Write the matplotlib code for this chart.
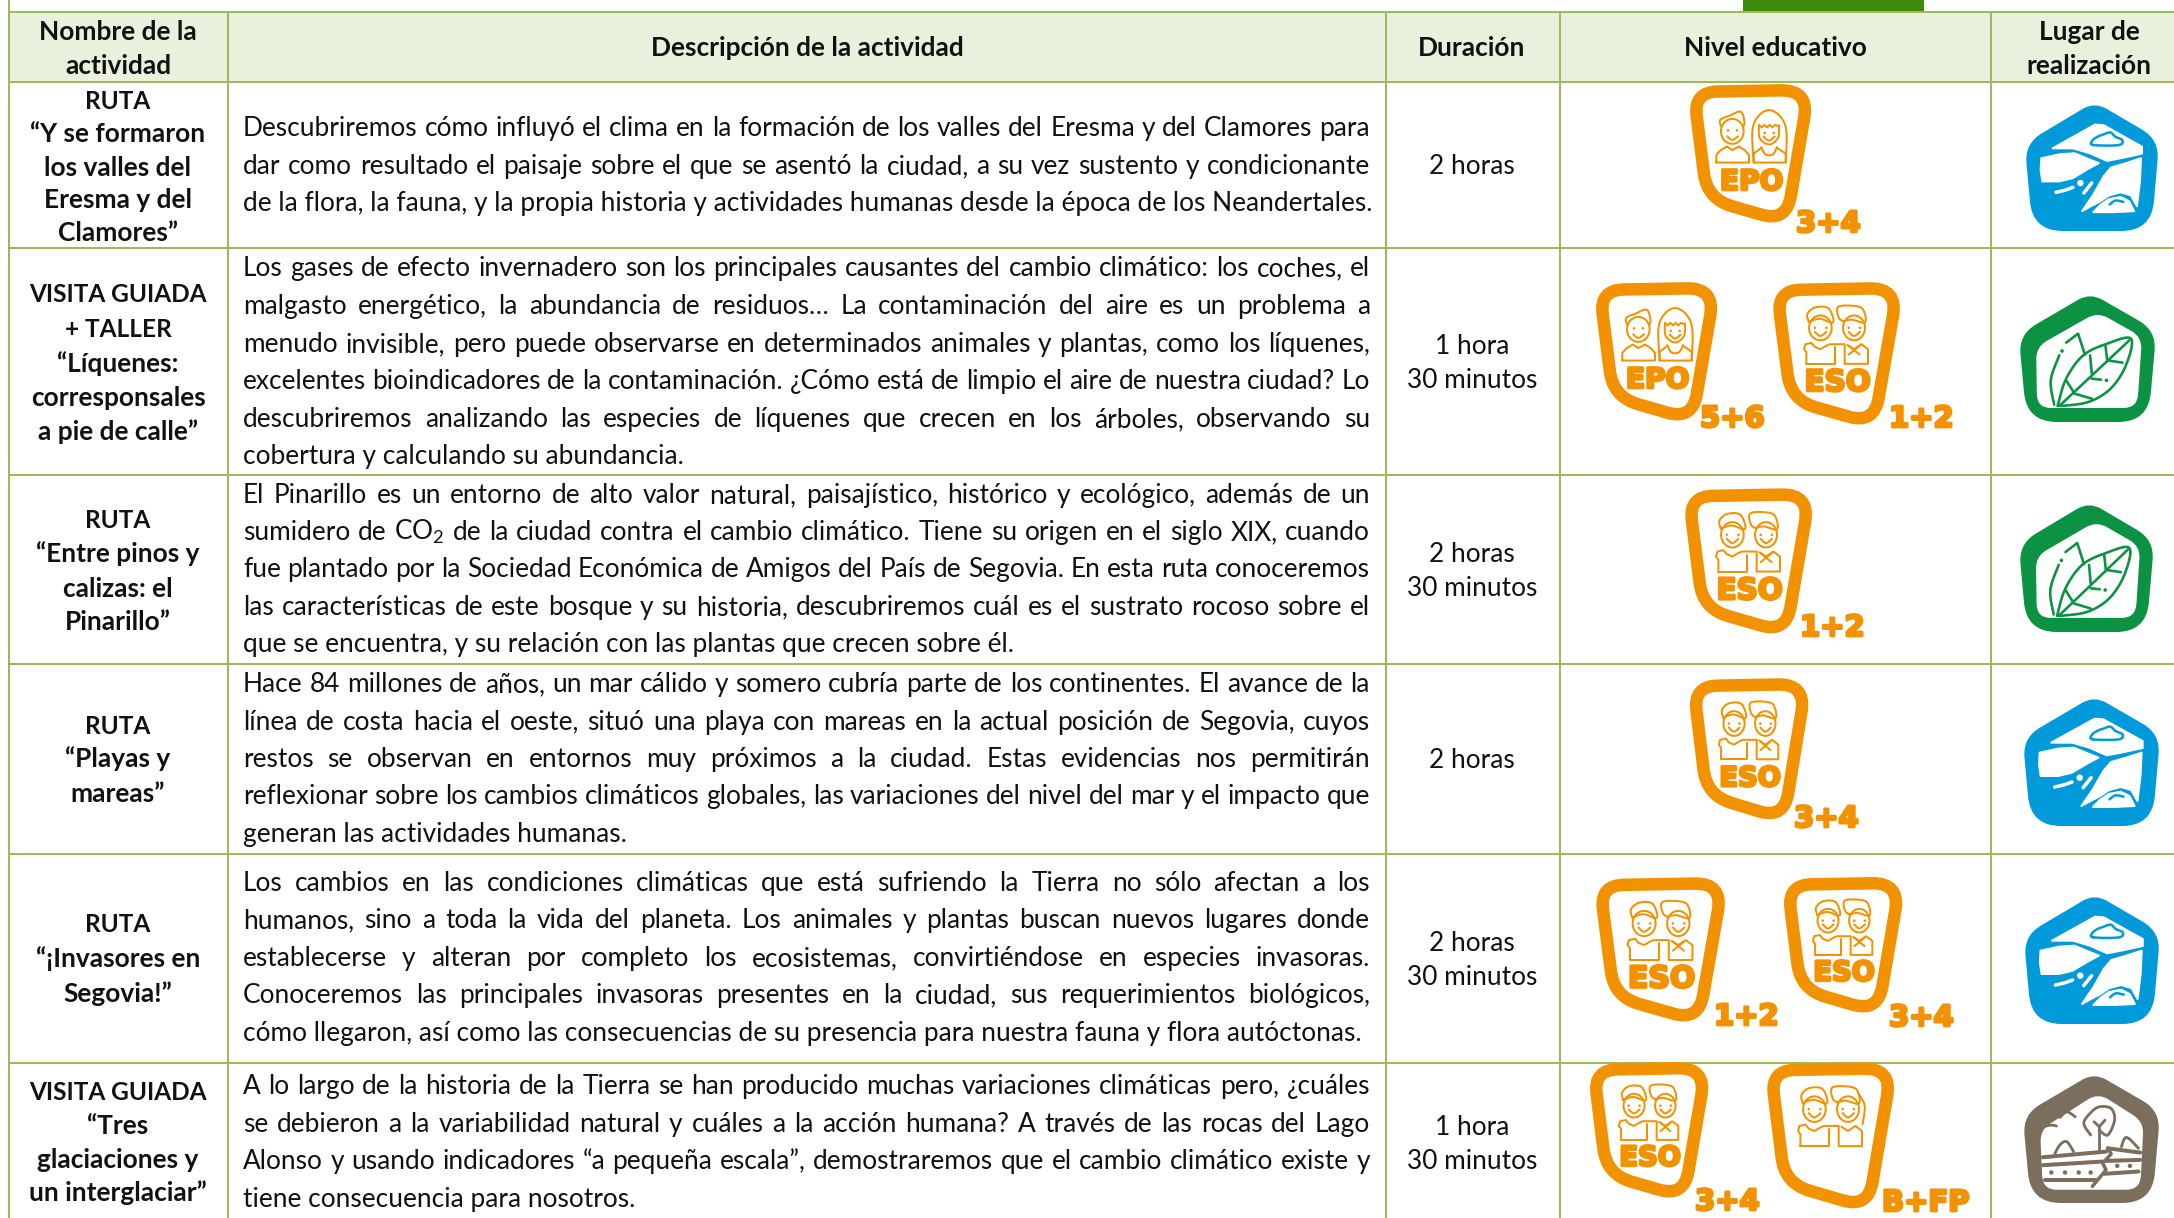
import numpy as np
import matplotlib
matplotlib.use("Agg")
import matplotlib.pyplot as plt
from matplotlib.path import Path
from matplotlib.patches import PathPatch, Rectangle, Ellipse, Polygon
import matplotlib.patheffects as pe

plt.rcParams['font.family'] = ['Lato', 'DejaVu Sans']
plt.rcParams['mathtext.fontset'] = 'custom'
plt.rcParams['mathtext.rm'] = 'Lato'

# ------------------------------------------------------------------ content
headers = ["Nombre de la\nactividad", "Descripción de la actividad", "Duración",
           "Nivel educativo", "Lugar de\nrealización"]
names = [
    ["RUTA", "“Y se formaron", "los valles del", "Eresma y del", "Clamores”"],
    ["VISITA GUIADA", "+ TALLER", "“Líquenes:", "corresponsales", "a pie de calle”"],
    ["RUTA", "“Entre pinos y", "calizas: el", "Pinarillo”"],
    ["RUTA", "“Playas y", "mareas”"],
    ["RUTA", "“¡Invasores en", "Segovia!”"],
    ["VISITA GUIADA", "“Tres", "glaciaciones y", "un interglaciar”"],
]
descriptions = [
    ["Descubriremos cómo influyó el clima en la formación de los valles del Eresma y del Clamores para",
     "dar como resultado el paisaje sobre el que se asentó la ciudad, a su vez sustento y condicionante",
     "de la flora, la fauna, y la propia historia y actividades humanas desde la época de los Neandertales."],
    ["Los gases de efecto invernadero son los principales causantes del cambio climático: los coches, el",
     "malgasto energético, la abundancia de residuos… La contaminación del aire es un problema a",
     "menudo invisible, pero puede observarse en determinados animales y plantas, como los líquenes,",
     "excelentes bioindicadores de la contaminación. ¿Cómo está de limpio el aire de nuestra ciudad? Lo",
     "descubriremos analizando las especies de líquenes que crecen en los árboles, observando su",
     "cobertura y calculando su abundancia."],
    ["El Pinarillo es un entorno de alto valor natural, paisajístico, histórico y ecológico, además de un",
     "sumidero de CO$_{2}$ de la ciudad contra el cambio climático. Tiene su origen en el siglo XIX, cuando",
     "fue plantado por la Sociedad Económica de Amigos del País de Segovia. En esta ruta conoceremos",
     "las características de este bosque y su historia, descubriremos cuál es el sustrato rocoso sobre el",
     "que se encuentra, y su relación con las plantas que crecen sobre él."],
    ["Hace 84 millones de años, un mar cálido y somero cubría parte de los continentes. El avance de la",
     "línea de costa hacia el oeste, situó una playa con mareas en la actual posición de Segovia, cuyos",
     "restos se observan en entornos muy próximos a la ciudad. Estas evidencias nos permitirán",
     "reflexionar sobre los cambios climáticos globales, las variaciones del nivel del mar y el impacto que",
     "generan las actividades humanas."],
    ["Los cambios en las condiciones climáticas que está sufriendo la Tierra no sólo afectan a los",
     "humanos, sino a toda la vida del planeta. Los animales y plantas buscan nuevos lugares donde",
     "establecerse y alteran por completo los ecosistemas, convirtiéndose en especies invasoras.",
     "Conoceremos las principales invasoras presentes en la ciudad, sus requerimientos biológicos,",
     "cómo llegaron, así como las consecuencias de su presencia para nuestra fauna y flora autóctonas."],
    ["A lo largo de la historia de la Tierra se han producido muchas variaciones climáticas pero, ¿cuáles",
     "se debieron a la variabilidad natural y cuáles a la acción humana? A través de las rocas del Lago",
     "Alonso y usando indicadores “a pequeña escala”, demostraremos que el cambio climático existe y",
     "tiene consecuencia para nosotros."],
]
durations = [["2 horas"], ["1 hora", "30 minutos"], ["2 horas", "30 minutos"],
             ["2 horas"], ["2 horas", "30 minutos"], ["1 hora", "30 minutos"]]
levels = [[("EPO", "3+4")], [("EPO", "5+6"), ("ESO", "1+2")], [("ESO", "1+2")],
          [("ESO", "3+4")], [("ESO", "1+2"), ("ESO", "3+4")], [("ESO", "3+4"), ("", "B+FP")]]
places = ["rio", "bosque", "bosque", "rio", "rio", "roca"]

# ------------------------------------------------------------------ layout (pixels)
W, H = 2174, 1218
col_x = [9, 228, 1386, 1560, 1991]
row_y = [12, 82, 248, 475, 664, 854, 1063]
name_y = [[100, 133, 167, 199, 232], [293, 328, 363, 397, 431], [519, 553, 588, 621],
          [725, 758, 793], [923, 958, 993], [1091, 1125, 1159, 1192]]
desc_y = [[127, 165, 202], [267, 305, 343, 380, 418, 455], [494, 531, 568, 606, 643],
          [683, 721, 758, 795, 833], [882, 919, 957, 994, 1032], [1085, 1123, 1160, 1198]]
dur_y = [[165], [345, 379], [553, 587], [759], [942, 976], [1126, 1160]]
badge_boxes = [
    [(1690, 85, 122, 139)],
    [(1596, 283, 122, 139), (1773, 283, 128, 143)],
    [(1685, 489, 128, 146)],
    [(1690, 679, 119, 142)],
    [(1596, 878, 130, 145), (1784, 878, 119, 136)],
    [(1590, 1063, 119, 136), (1767, 1063, 128, 147)],
]
label_xy = [
    [(1796, 233)],
    [(1700, 428), (1889, 428)],
    [(1800, 637)],
    [(1794, 828)],
    [(1714, 1026), (1889, 1027)],
    [(1695, 1211), (1882, 1212)],
]
place_boxes = [(2026, 106, 132, 125), (2020, 297, 135, 125), (2020, 506, 133, 126),
               (2024, 700, 135, 126), (2025, 898, 134, 126), (2024, 1077, 135, 126)]

LINE = "#9bbb59"; HEAD = "#e9f0dc"; TOP = "#3d8b0f"; ORANGE = "#f39200"
BLUE = "#009ada"; GREEN = "#0b9242"; BROWN = "#7b6e5c"; INK = "#111111"
PX = 0.72
FS_BODY = 26.2 * PX
FS_BOLD = 26.2 * PX
FS_CAPS = 24.4 * PX
BASE = 9

fig = plt.figure(figsize=(W / 100, H / 100), dpi=100)
ax = fig.add_axes([0, 0, 1, 1])
ax.set_xlim(0, W); ax.set_ylim(H, 0); ax.axis("off")
fig.canvas.draw()
rend = fig.canvas.get_renderer()


# ------------------------------------------------------------------ helpers
def rounded(pts, r):
    pts = [np.array(p, float) for p in pts]
    n = len(pts); verts = []; codes = []
    for i in range(n):
        p, a, b = pts[i], pts[i - 1], pts[(i + 1) % n]
        rad = r[i] if np.iterable(r) else r
        d1 = (a - p) / np.linalg.norm(a - p); d2 = (b - p) / np.linalg.norm(b - p)
        s, e = p + d1 * rad, p + d2 * rad
        verts += [s, p, e]
        codes += [Path.MOVETO if i == 0 else Path.LINETO, Path.CURVE3, Path.CURVE3]
    verts.append(verts[0]); codes.append(Path.CLOSEPOLY)
    return Path(verts, codes)


def smooth(pts, closed=False, k=8):
    P = np.array(pts, float)
    if closed:
        P = np.vstack([P[-1], P, P[0], P[1]])
    else:
        P = np.vstack([P[0], P, P[-1]])
    out = []
    for i in range(1, len(P) - 2):
        for t in np.linspace(0, 1, k, endpoint=False):
            out.append(0.5 * ((2 * P[i]) + (-P[i - 1] + P[i + 1]) * t +
                              (2 * P[i - 1] - 5 * P[i] + 4 * P[i + 1] - P[i + 2]) * t ** 2 +
                              (-P[i - 1] + 3 * P[i] - 3 * P[i + 1] + P[i + 2]) * t ** 3))
    out.append(P[-2])
    return np.array(out)


class Map:
    def __init__(s, box, zoombox):
        s.x, s.y, s.w, s.h = box
        s.zx, s.zy, s.zw, s.zh = zoombox

    def __call__(s, pts):
        a = np.atleast_2d(np.array(pts, float))
        return np.column_stack([s.x + (a[:, 0] - s.zx) / s.zw * s.w,
                                s.y + (a[:, 1] - s.zy) / s.zh * s.h])

    def stroke(s, pts, color, lw, curve=True, closed=False, z=5):
        p = smooth(pts, closed) if curve else np.array(pts, float)
        q = s(p)
        ax.plot(q[:, 0], q[:, 1], color=color, lw=lw * PX, solid_capstyle="round",
                solid_joinstyle="round", zorder=z)

    def fill(s, pts, color, curve=False, z=4):
        p = smooth(pts, True) if curve else np.array(pts, float)
        ax.add_patch(Polygon(s(p), closed=True, fc=color, ec=color, lw=2 * PX, joinstyle="round", zorder=z))

    def dot(s, c, rpx, color, z=6):
        q = s(c)[0]
        ax.add_patch(Ellipse(q, 2 * rpx, 2 * rpx, fc=color, ec="none", zorder=z))

    def ell(s, c, rx, ry, color, lw, z=5):
        q = s(c)[0]
        ax.add_patch(Ellipse(q, 2 * rx / s.zw * s.w, 2 * ry / s.zh * s.h, fc="none", ec=color, lw=lw * PX, zorder=z))


def justified(words_line, x0, x1, y):
    words = words_line.split(" ")
    ts = [ax.text(0, y, w, fontsize=FS_BODY, color=INK, va="baseline", ha="left") for w in words]
    widths = [t.get_window_extent(rend).width for t in ts]
    gap = (x1 - x0 - sum(widths)) / max(len(words) - 1, 1)
    x = x0
    for t, w in zip(ts, widths):
        t.set_x(x)
        x += w + gap


# ------------------------------------------------------------------ grid
ax.add_patch(Rectangle((1743, 0), 181, 12, fc=TOP, ec="none", zorder=1))
ax.add_patch(Rectangle((col_x[0], row_y[0]), W - col_x[0], row_y[1] - row_y[0], fc=HEAD, ec="none", zorder=1))
for x in col_x:
    ax.plot([x, x], [0 if x == col_x[0] else row_y[0], H], color=LINE, lw=2 * PX, zorder=2)
for y in row_y:
    ax.plot([col_x[0], W], [y, y], color=LINE, lw=2 * PX, zorder=2)

# ------------------------------------------------------------------ header text
head_cx = [118, 807, 1472, 1775, 2089]
for txt, cx in zip(headers, head_cx):
    parts = txt.split("\n")
    ys = [40, 74] if len(parts) == 2 else [56]
    for p, y in zip(parts, ys):
        ax.text(cx, y, p, fontsize=FS_BOLD, fontweight="bold", color=INK, ha="center", va="baseline")

# ------------------------------------------------------------------ body text
for lines, ys in zip(names, name_y):
    for s, y in zip(lines, ys):
        ax.text(118, y + BASE, s, fontsize=FS_CAPS if s.isupper() else FS_BOLD, fontweight="bold",
                color=INK, ha="center", va="baseline")
for lines, ys in zip(descriptions, desc_y):
    for i, (s, y) in enumerate(zip(lines, ys)):
        if i < len(lines) - 1:
            justified(s, 243, 1370, y + BASE)
        else:
            ax.text(243, y + BASE, s, fontsize=FS_BODY, color=INK, ha="left", va="baseline")
for lines, ys in zip(durations, dur_y):
    for s, y in zip(lines, ys):
        ax.text(1472, y + BASE, s, fontsize=FS_BODY, color=INK, ha="center", va="baseline")


# ------------------------------------------------------------------ education badges
def people(kind, box):
    x, y, w, h = box
    c = ORANGE; lw = 2.0
    if kind == "EPO":
        m = Map((x + .21 * w, y + .18 * h, .58 * w, .385 * h), (108, 75, 212, 163))
        m.ell((158, 140), 34, 38, c, lw)
        m.stroke([(124, 125), (122, 105), (150, 92), (183, 80), (194, 108), (192, 125)], c, lw)
        for e in [(145, 137), (172, 137)]:
            m.dot(e, 1.3, c)
        m.stroke([(143, 155), (158, 166), (175, 155)], c, lw)
        m.stroke([(110, 235), (110, 212), (122, 198), (142, 186), (158, 197), (178, 186), (196, 198),
                  (208, 212), (208, 235), (110, 235)], c, lw, curve=False)
        m.stroke([(222, 235), (218, 140), (235, 95), (268, 75), (302, 95), (320, 140), (318, 235)], c, lw)
        m.stroke([(238, 120), (246, 128), (254, 120), (262, 128), (270, 120), (278, 128), (286, 120),
                  (298, 125)], c, lw, curve=False)
        m.stroke([(238, 122), (240, 160), (268, 180), (295, 160), (298, 122)], c, lw)
        for e in [(255, 145), (282, 145)]:
            m.dot(e, 1.3, c)
        m.stroke([(252, 156), (268, 168), (285, 156)], c, lw)
        m.stroke([(245, 188), (255, 208), (268, 213), (282, 208), (292, 188)], c, lw)
        m.stroke([(222, 235), (222, 208), (245, 190)], c, lw, curve=False)
        m.stroke([(292, 190), (318, 208), (318, 235), (222, 235)], c, lw, curve=False)
    else:
        m = Map((x + .235 * w, y + .165 * h, .52 * w, .405 * h), (115, 75, 200, 177))
        m.ell((167, 140), 34, 38, c, lw)
        m.ell((268, 140), 33, 38, c, lw)
        m.stroke([(132, 122), (128, 98), (150, 78), (188, 78), (204, 105), (202, 124), (165, 112), (132, 122)], c, lw)
        m.stroke([(236, 120), (222, 108), (222, 75), (282, 75), (300, 95), (300, 124), (262, 115), (236, 120)], c, lw)
        if kind == "":
            m.stroke([(300, 95), (318, 130), (312, 185)], c, lw)
        for e in [(150, 140), (185, 140), (252, 140), (286, 140)]:
            m.dot(e, 1.3, c)
        m.stroke([(150, 152), (167, 165), (185, 152)], c, lw)
        m.stroke([(252, 152), (268, 165), (286, 152)], c, lw)
        m.stroke([(125, 250), (125, 215), (118, 205), (122, 190), (140, 186), (150, 198), (167, 205),
                  (182, 196), (195, 190), (240, 190), (240, 250), (310, 250), (310, 205), (290, 190),
                  (268, 205), (248, 192)], c, lw, curve=False)
        m.stroke([(125, 250), (210, 250), (210, 200)], c, lw, curve=False)
        if kind:
            m.stroke([(252, 195), (285, 222)], c, lw, curve=False)
            m.stroke([(285, 195), (252, 222)], c, lw, curve=False)
    return


badge_shape = [(.03, .05), (.975, .035), (.79, .985), (.14, .82)]
for row, boxes, labs in zip(levels, badge_boxes, label_xy):
    for (kind, lab), box, lxy in zip(row, boxes, labs):
        x, y, w, h = box
        pts = [(x + u * w, y + v * h) for u, v in badge_shape]
        ax.add_patch(PathPatch(rounded(pts, [24, 28, 26, 26]), fc="white", ec=ORANGE, lw=12.5 * PX,
                               joinstyle="round", zorder=3))
        people(kind, box)
        eff = [pe.withStroke(linewidth=2.0, foreground=ORANGE)]
        if kind:
            ax.text(x + .505 * w, y + .755 * h, kind, family="DejaVu Sans", fontsize=28 * PX * w / 122,
                    fontweight="bold", color=ORANGE, ha="center", va="baseline", zorder=6, path_effects=eff)
        ax.text(lxy[0], lxy[1] - 1, lab, family="DejaVu Sans", fontsize=29 * PX, fontweight="bold", color=ORANGE,
                ha="left", va="baseline", zorder=6, path_effects=eff)


# ------------------------------------------------------------------ place icons
def house(box, zb, color, inner):
    m = Map(box, zb)
    zx, zy, zw, zh = zb
    outer = [(zx + .52 * zw, zy - .034 * zh), (zx + 1.01 * zw, zy + .27 * zh), (zx + .95 * zw, zy + 1.0 * zh),
             (zx + .05 * zw, zy + 1.0 * zh), (zx - .01 * zw, zy + .30 * zh)]
    ax.add_patch(PathPatch(rounded(m(outer), [14, 20, 30, 30, 20]), fc=color, ec="none", zorder=3))
    if inner:
        ax.add_patch(PathPatch(rounded(m(inner), [12, 12, 14, 14, 12]), fc="white", ec="none", zorder=4))
    return m


def rio(box):
    m = house(box, (52, 32, 388, 378), BLUE, None)
    w = "white"
    m.fill([(130, 160), (255, 88), (280, 90), (393, 155), (393, 176), (340, 188),
            (290, 198), (240, 175), (190, 160)], w)
    m.stroke([(250, 150), (325, 150), (335, 135), (315, 125), (300, 112), (280, 118), (262, 125), (247, 137)],
             BLUE, 2.5, closed=True, z=6)
    m.fill([(97, 190), (150, 178), (195, 175), (230, 190), (266, 205), (235, 222), (190, 250), (150, 260),
            (100, 260), (95, 225)], w)
    m.fill([(302, 218), (345, 205), (390, 190), (387, 260), (378, 335), (360, 302), (330, 293), (295, 303),
            (268, 322), (243, 335), (217, 350), (250, 300), (280, 245)], w)
    m.fill([(250, 353), (270, 332), (295, 314), (330, 307), (355, 320), (370, 350), (310, 353)], w)
    m.stroke([(298, 330), (315, 318), (338, 322)], BLUE, 2.5, z=6)
    m.stroke([(140, 293), (165, 287), (190, 278)], w, 3.5, z=6)
    m.dot((212, 265), 3.2, w)
    m.stroke([(222, 295), (245, 265)], w, 3.5, curve=False, z=6)


def bosque(box):
    inner = [(262, 80), (392, 155), (378, 368), (85, 368), (82, 185)]
    m = house(box, (35, 35, 395, 375), GREEN, inner)
    c = GREEN; lw = 2.6
    m.stroke([(145, 362), (170, 280), (220, 210), (290, 175), (360, 160), (345, 240), (300, 310), (235, 350), (155, 362)], c, lw)
    m.stroke([(150, 362), (355, 165)], c, lw, curve=False)
    m.stroke([(240, 210), (245, 265)], c, lw, curve=False)
    m.stroke([(285, 180), (290, 225), (335, 232)], c, lw, curve=False)
    m.stroke([(170, 285), (195, 325), (245, 340)], c, lw, curve=False)
    m.stroke([(245, 280), (272, 283)], c, lw, curve=False)
    m.stroke([(135, 358), (125, 285), (150, 210)], c, lw)
    m.stroke([(170, 172), (205, 145), (225, 208)], c, lw, curve=False)
    m.dot((158, 197), 1.8, c); m.dot((288, 285), 1.8, c)


def roca(box):
    inner = [(262, 78), (395, 165), (385, 370), (100, 370), (92, 190)]
    m = house(box, (45, 30, 395, 380), BROWN, inner)
    c = BROWN; lw = 2.8
    m.stroke([(265, 250), (265, 180)], c, lw, curve=False)
    m.stroke([(250, 165), (265, 180), (282, 160)], c, lw, curve=False)
    m.stroke([(240, 205), (220, 170), (238, 140), (265, 120), (300, 125), (310, 160), (290, 205), (265, 190)], c, lw)
    m.stroke([(100, 180), (125, 175), (140, 178)], c, lw)
    m.stroke([(150, 152), (170, 135), (195, 150)], c, lw)
    m.stroke([(135, 262), (150, 235), (170, 225), (190, 255)], c, lw)
    m.stroke([(330, 240), (345, 212), (380, 245)], c, lw)
    m.stroke([(100, 272), (285, 255)], c, 4, curve=False)
    m.stroke([(100, 296), (275, 285)], c, 4, curve=False)
    m.stroke([(290, 245), (300, 262), (275, 290), (285, 310), (245, 360)], c, 3.5, curve=False)
    m.stroke([(290, 245), (385, 258)], c, 4, curve=False)
    m.stroke([(285, 283), (385, 280)], c, 4, curve=False)
    m.stroke([(280, 322), (380, 315)], c, 4, curve=False)
    m.stroke([(105, 340), (255, 340)], c, 4, curve=False)
    for e in [(125, 318), (165, 318), (205, 318), (240, 318), (318, 298), (355, 298)]:
        m.dot(e, 2.2, c)


draw_place = {"rio": rio, "bosque": bosque, "roca": roca}
for kind, box in zip(places, place_boxes):
    draw_place[kind](box)

fig.savefig("out.png", dpi=100, facecolor="white")
